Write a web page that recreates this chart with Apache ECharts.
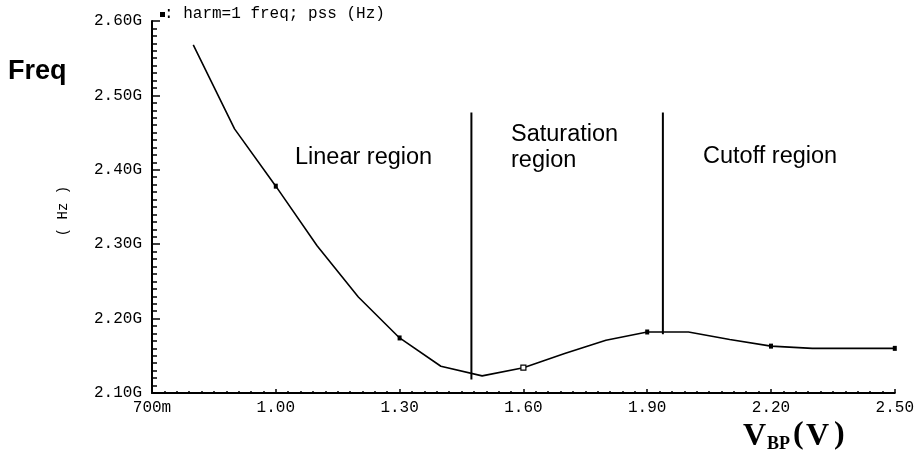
<!DOCTYPE html>
<html>
<head>
<meta charset="utf-8">
<title>PSS harmonic frequency vs V_BP</title>
<script src="https://cdn.jsdelivr.net/npm/echarts@6/dist/echarts.min.js"></script>
<style>
  html, body { margin: 0; padding: 0; background: #fff; }
  #chart { width: 917px; height: 458px; }
</style>
</head>
<body>
<div id="chart"></div>
<script>
// Bias sweep (V) and the first-harmonic PSS frequency (GHz)
const volts = [0.8, 0.9, 1.0, 1.1, 1.2, 1.3, 1.4, 1.5, 1.6, 1.7, 1.8, 1.9, 2.0, 2.1, 2.2, 2.3, 2.4, 2.5];
const freqGHz = [2.568, 2.455, 2.378, 2.298, 2.229, 2.174, 2.136, 2.123, 2.134, 2.153, 2.171, 2.182, 2.182, 2.172, 2.163, 2.160, 2.160, 2.160];

// Sweep points that carry a marker; the hollow one is drawn open
const markerVolts = [1.0, 1.3, 1.6, 1.9, 2.2, 2.5];
const hollowMarkerVolts = [1.6];

// Region boundaries (V) and the vertical extent of each divider (GHz)
const boundaryVolts = [1.474, 1.938];
const boundaryTop = 2.477;
const boundaryBottom = [2.118, 2.179];

// Tick labels
const xTickLabels = ['700m', '1.00', '1.30', '1.60', '1.90', '2.20', '2.50'];
const yTickLabels = ['2.10G', '2.20G', '2.30G', '2.40G', '2.50G', '2.60G'];

// Region names
const regionNames = ['Linear region', 'Saturation', 'region', 'Cutoff region'];

const chart = echarts.init(document.getElementById('chart'), null, { renderer: 'canvas' });

const near = (a, b) => Math.abs(a - b) < 1e-6;

const curveData = volts.map((v, i) => {
  const item = { value: [v, freqGHz[i]] };
  if (hollowMarkerVolts.some(h => near(h, v))) {
    item.itemStyle = { color: '#fff', borderColor: '#000', borderWidth: 1.2 };
    item.symbolSize = [5, 5];
  }
  return item;
});

const dividerSeries = boundaryVolts.map((v, i) => ({
  type: 'line',
  data: [[v, boundaryBottom[i]], [v, boundaryTop]],
  symbol: 'none',
  silent: true,
  lineStyle: { color: '#000', width: 2 },
  z: 3
}));

const mono = "'Liberation Mono', 'DejaVu Sans Mono', monospace";
const sans = "'Liberation Sans', Arial, sans-serif";
const serif = "'Liberation Serif', 'Times New Roman', serif";

const option = {
  backgroundColor: '#fff',
  animation: false,
  grid: { left: 152, right: 19, top: 21, bottom: 65, containLabel: false },
  xAxis: {
    type: 'value',
    min: 0.7,
    max: 2.5,
    interval: 0.3,
    axisLine: { show: true, lineStyle: { color: '#000', width: 2 } },
    axisTick: { show: true, inside: true, length: 4, lineStyle: { color: '#000', width: 1.5 } },
    minorTick: { show: true, splitNumber: 10, length: 2, lineStyle: { color: '#000', width: 1.5 } },
    splitLine: { show: false },
    axisLabel: {
      margin: 7,
      fontFamily: mono,
      fontSize: 16,
      color: '#000',
      formatter: (val, idx) => xTickLabels[idx] !== undefined ? xTickLabels[idx] : ''
    }
  },
  yAxis: {
    type: 'value',
    min: 2.1,
    max: 2.6,
    interval: 0.1,
    axisLine: { show: true, lineStyle: { color: '#000', width: 2 } },
    axisTick: { show: true, inside: true, length: 8, lineStyle: { color: '#000', width: 1.5 } },
    minorTick: { show: true, splitNumber: 10, length: 5, lineStyle: { color: '#000', width: 1.5 } },
    splitLine: { show: false },
    axisLabel: {
      margin: 10,
      fontFamily: mono,
      fontSize: 16,
      color: '#000',
      formatter: (val, idx) => yTickLabels[idx] !== undefined ? yTickLabels[idx] : ''
    }
  },
  series: [
    {
      type: 'line',
      data: curveData,
      showAllSymbol: true,
      symbol: (value) => markerVolts.some(m => near(m, value[0])) ? 'rect' : 'none',
      symbolSize: [4, 5],
      itemStyle: { color: '#000' },
      lineStyle: { color: '#000', width: 1.6 },
      z: 4
    },
    ...dividerSeries
  ],
  graphic: [
    // Plot caption: marker glyph followed by the signal name
    { type: 'rect', shape: { x: 160, y: 12, width: 5, height: 5 }, style: { fill: '#000' } },
    { type: 'text', x: 164, y: 14, style: { text: ': harm=1 freq; pss (Hz)', font: '16px ' + mono, fill: '#000', verticalAlign: 'middle' } },
    // Axis titles
    { type: 'text', x: 8, y: 72, style: { text: 'Freq', font: 'bold 27px ' + sans, fill: '#000', verticalAlign: 'middle' } },
    { type: 'text', x: 63, y: 211, rotation: Math.PI / 2, style: { text: '( Hz )', font: '14px ' + mono, fill: '#000', align: 'center', verticalAlign: 'middle' } },
    { type: 'text', x: 743, y: 437, style: { text: 'V', font: 'bold 32px ' + serif, fill: '#000', verticalAlign: 'middle' } },
    { type: 'text', x: 767, y: 444, style: { text: 'BP', font: 'bold 18px ' + serif, fill: '#000', verticalAlign: 'middle' } },
    { type: 'text', x: 793, y: 435, style: { text: '(', font: 'bold 32px ' + serif, fill: '#000', verticalAlign: 'middle' } },
    { type: 'text', x: 806, y: 437, style: { text: 'V', font: 'bold 32px ' + serif, fill: '#000', verticalAlign: 'middle' } },
    { type: 'text', x: 834, y: 435, style: { text: ')', font: 'bold 32px ' + serif, fill: '#000', verticalAlign: 'middle' } },
    // Operating-region names
    { type: 'text', x: 295, y: 158, style: { text: regionNames[0], font: '23.5px ' + sans, fill: '#000', verticalAlign: 'middle' } },
    { type: 'text', x: 511, y: 135, style: { text: regionNames[1], font: '23.5px ' + sans, fill: '#000', verticalAlign: 'middle' } },
    { type: 'text', x: 511, y: 161, style: { text: regionNames[2], font: '23.5px ' + sans, fill: '#000', verticalAlign: 'middle' } },
    { type: 'text', x: 703, y: 157, style: { text: regionNames[3], font: '23.5px ' + sans, fill: '#000', verticalAlign: 'middle' } }
  ]
};

chart.setOption(option);
</script>
</body>
</html>
